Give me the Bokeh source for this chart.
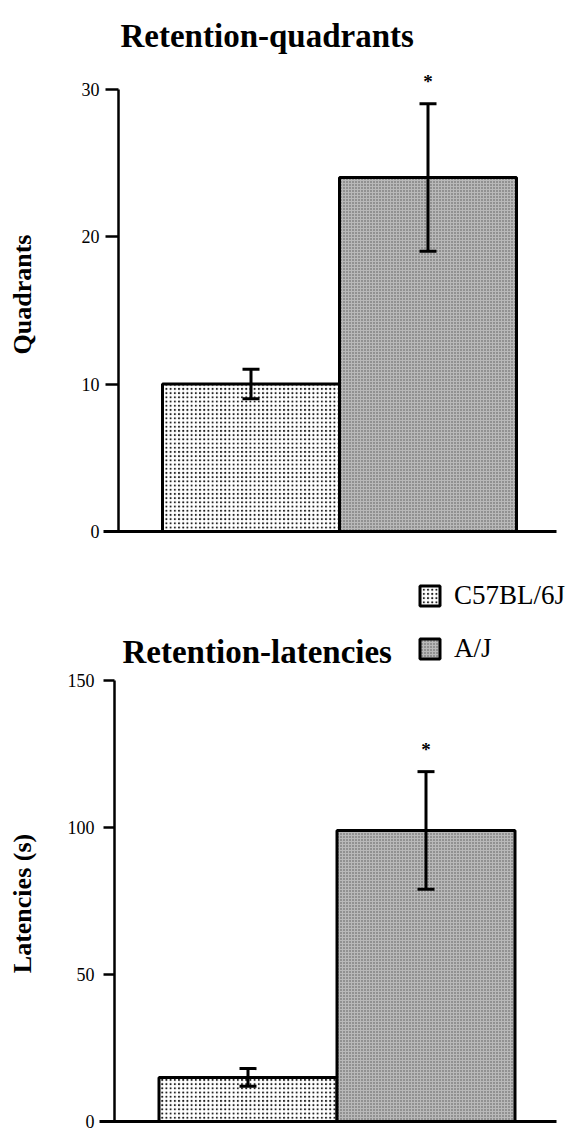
import math
from bokeh.plotting import figure
from bokeh.layouts import column
from bokeh.models import (ColumnDataSource, Whisker, TeeHead, Range1d, Label,
                          Legend, LegendItem, FixedTicker)
from bokeh.embed import file_html
from bokeh.resources import INLINE
from bokeh.core.properties import value

# --- data -------------------------------------------------------------
strains = ["C57BL/6J", "A/J"]
quadrant_means = [10, 24]
quadrant_sems = [1, 5]
latency_means = [15, 99]
latency_sems = [3, 20]
significant = [False, True]
quadrant_ticks = [0, 10, 20, 30]
latency_ticks = [0, 50, 100, 150]

# --- style ------------------------------------------------------------
SERIF = "Liberation Serif"
bar_fills = ["#ffffff", "#b9b9b9"]
bar_hatch_colors = ["#1e1e1e", "#555555"]
bar_hatch_scales = [4.2, 3.0]
bar_hatch_weights = [1.6, 1.1]

WIDTH = 569
BASELINE_END_PX = 556


def panel(title, ylabel, means, sems, ticks, height, zero_px, unit_px, x_unit_px,
          first_bar_px, axis_px, baseline_start_px, title_px, ylabel_px,
          tick_out, tick_standoff):
    """One bar panel; the plotting frame fills the canvas so every text sits in it."""
    x0 = 1 - first_bar_px / x_unit_px

    def px_x(px):
        return x0 + px / x_unit_px

    def px_y(py):
        return (zero_px - py) / unit_px

    p = figure(width=WIDTH, height=height, output_backend="svg", toolbar_location=None,
               x_range=Range1d(px_x(0), px_x(WIDTH)),
               y_range=Range1d(px_y(height), px_y(0)),
               min_border_left=0, min_border_right=0,
               min_border_top=0, min_border_bottom=0)
    p.outline_line_color = None
    p.grid.visible = False
    p.background_fill_color = "white"

    xs = [i + 1 for i in range(len(strains))]
    src = ColumnDataSource(dict(
        x=xs, top=means, upper=[m + s for m, s in zip(means, sems)],
        lower=[m - s for m, s in zip(means, sems)], strain=strains,
        fill=bar_fills, hatch=bar_hatch_colors, hscale=bar_hatch_scales,
        hweight=bar_hatch_weights))

    bars = p.vbar(x="x", top="top", bottom=0, width=1.0, source=src,
                  fill_color="fill", line_color="black", line_width=3,
                  hatch_pattern="dot", hatch_color="hatch",
                  hatch_scale="hscale", hatch_weight="hweight")

    whisk = Whisker(base="x", upper="upper", lower="lower", source=src,
                    line_color="black", line_width=3, level="annotation",
                    upper_head=TeeHead(size=17, line_width=3, line_color="black"),
                    lower_head=TeeHead(size=17, line_width=3, line_color="black"))
    p.add_layout(whisk)

    star_x = [x for x, s in zip(xs, significant) if s]
    star_y = [m + e for m, e, s in zip(means, sems, significant) if s]
    p.text(x=star_x, y=star_y, text=["*"] * len(star_x), text_font=value(SERIF),
           text_font_size="19px", text_font_style="bold", text_align="center",
           text_baseline="alphabetic", y_offset=-22, text_color="black")

    # y axis pinned at a data position inside the frame
    ax = p.yaxis[0]
    ax.fixed_location = px_x(axis_px)
    ax.bounds = (ticks[0], ticks[-1])
    ax.ticker = FixedTicker(ticks=ticks)
    ax.minor_tick_line_color = None
    ax.major_tick_in = 0
    ax.major_tick_out = tick_out
    ax.major_tick_line_width = 2.5
    ax.axis_line_width = 2.5
    ax.major_label_standoff = tick_standoff
    ax.major_label_text_font = SERIF
    ax.major_label_text_font_size = "18px"
    ax.major_label_text_color = "black"

    # baseline at zero, running a little past the y axis on the left
    bx = p.xaxis[0]
    bx.fixed_location = 0
    bx.bounds = (px_x(baseline_start_px), px_x(BASELINE_END_PX))
    bx.ticker = FixedTicker(ticks=[])
    bx.major_label_text_font_size = "0px"
    bx.major_label_standoff = 0
    bx.major_tick_line_color = None
    bx.minor_tick_line_color = None
    bx.axis_line_width = 3

    p.add_layout(Label(x=px_x(ylabel_px[0]), y=px_y(ylabel_px[1]), text=ylabel,
                       angle=math.pi / 2, text_align="center", text_baseline="middle",
                       text_font=SERIF, text_font_style="bold", text_font_size="26px",
                       text_color="black"))

    p.add_layout(Label(x=px_x(title_px[0]), y=px_y(title_px[1]), text=title,
                       text_font=SERIF, text_font_style="bold", text_font_size="33px",
                       text_baseline="alphabetic", text_color="black"))
    return p, bars


top, _ = panel("Retention-quadrants", "Quadrants", quadrant_means, quadrant_sems,
               quadrant_ticks, height=565, zero_px=531, unit_px=14.75, x_unit_px=177,
               first_bar_px=250.5, axis_px=118, baseline_start_px=103,
               title_px=(120, 35), ylabel_px=(22, 294), tick_out=13, tick_standoff=6)

bottom, bars = panel("Retention-latencies", "Latencies (s)", latency_means, latency_sems,
                     latency_ticks, height=567, zero_px=556, unit_px=2.94, x_unit_px=178,
                     first_bar_px=247.5, axis_px=114, baseline_start_px=99,
                     title_px=(122, 86), ylabel_px=(22, 338), tick_out=11, tick_standoff=9)

legend = Legend(items=[LegendItem(label=s, renderers=[bars], index=i)
                       for i, s in enumerate(strains)],
                location=(417, 468), orientation="vertical",
                glyph_width=25, glyph_height=25, label_height=25,
                label_standoff=12, spacing=22, padding=0, margin=0,
                label_text_font=SERIF, label_text_font_size="27px",
                label_text_color="black",
                border_line_alpha=0, background_fill_alpha=0)
bottom.add_layout(legend)

layout = column(top, bottom, spacing=0)
open("out.html", "w").write(file_html(layout, INLINE))
